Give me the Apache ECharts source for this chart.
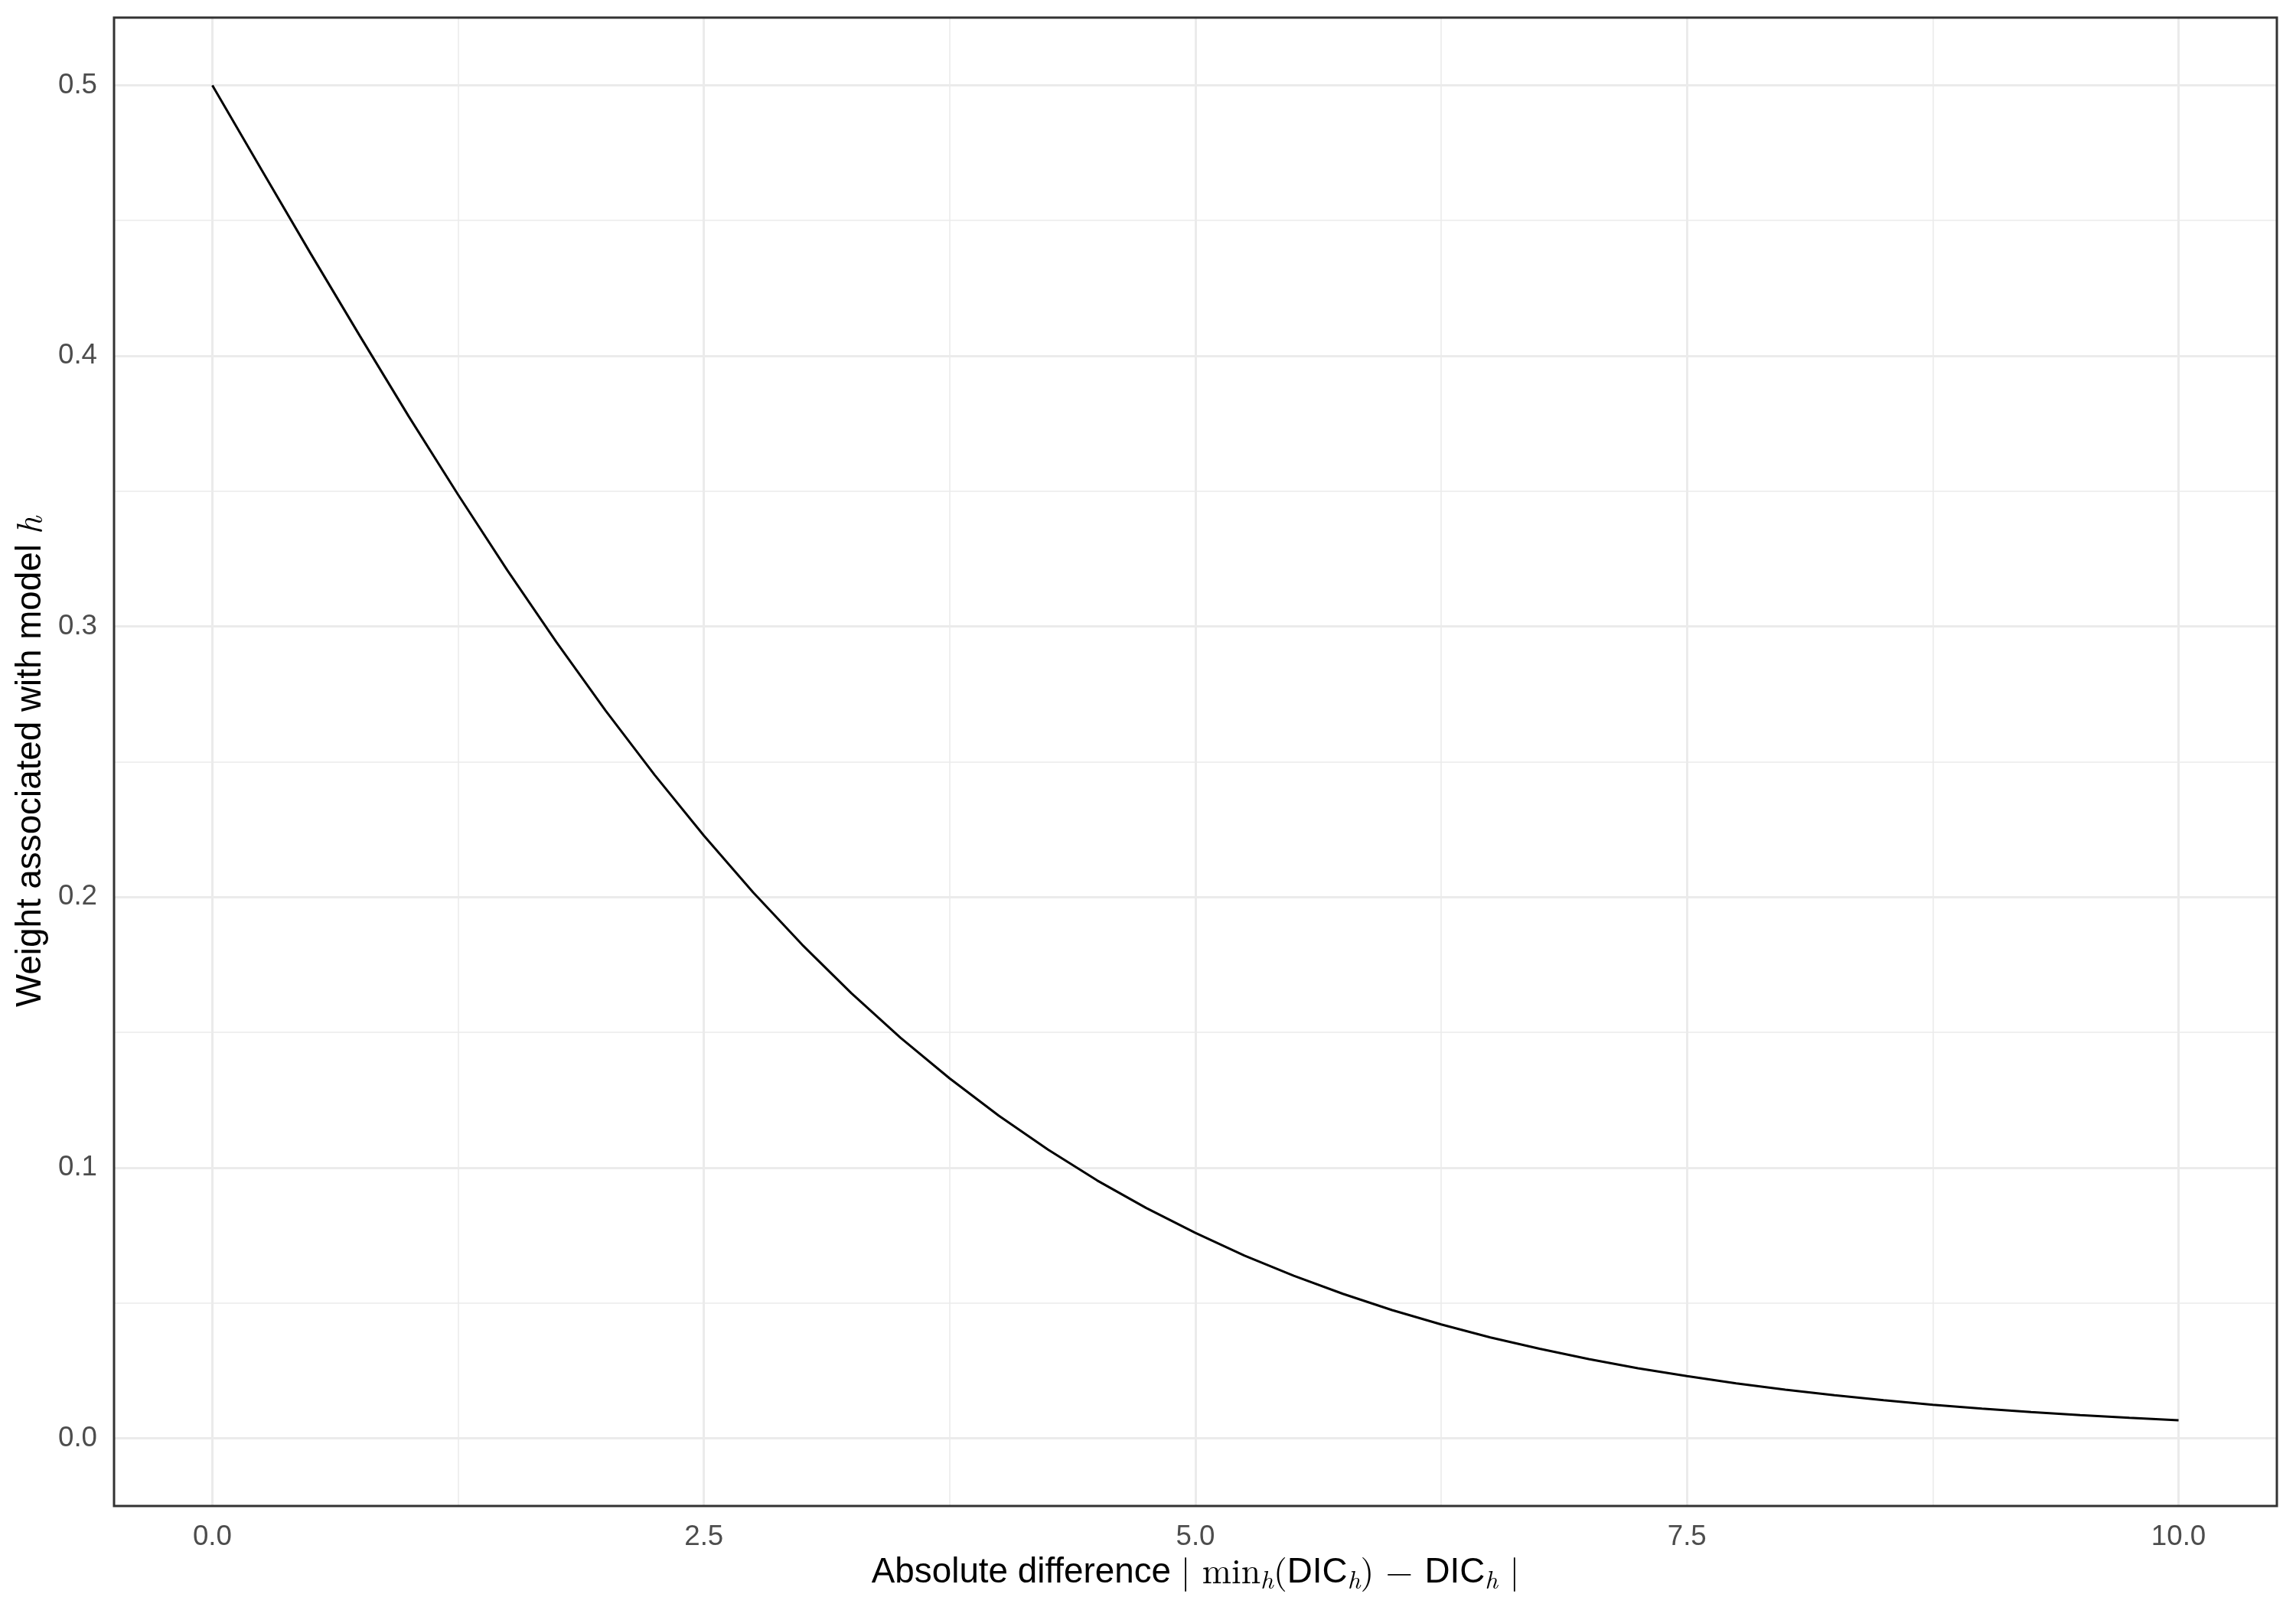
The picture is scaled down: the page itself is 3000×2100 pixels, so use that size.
<!DOCTYPE html>
<html>
<head>
<meta charset="utf-8">
<script src="https://cdn.jsdelivr.net/npm/echarts@6/dist/echarts.min.js"></script>
<style>
html,body{margin:0;padding:0;background:#fff;}
#chart{width:3000px;height:2100px;}
</style>
</head>
<body>
<div id="chart"></div>
<script>
// Absolute difference |min_h(DIC_h) - DIC_h|
const diffValues = [0, 0.25, 0.5, 0.75, 1, 1.25, 1.5, 1.75, 2, 2.25, 2.5, 2.75, 3, 3.25, 3.5, 3.75, 4, 4.25, 4.5, 4.75, 5,
  5.25, 5.5, 5.75, 6, 6.25, 6.5, 6.75, 7, 7.25, 7.5, 7.75, 8, 8.25, 8.5, 8.75, 9, 9.25, 9.5, 9.75, 10];
// Weight associated with model h
const weightValues = [0.5000, 0.4688, 0.4378, 0.4074, 0.3775, 0.3487, 0.3208, 0.2942, 0.2689, 0.2451, 0.2227, 0.2018,
  0.1824, 0.1645, 0.1480, 0.1330, 0.1192, 0.1067, 0.0953, 0.0851, 0.0759, 0.0675, 0.0601, 0.0534, 0.0474, 0.0421,
  0.0373, 0.0331, 0.0293, 0.0259, 0.0230, 0.0203, 0.0180, 0.0159, 0.0141, 0.0124, 0.0110, 0.0097, 0.0086, 0.0076, 0.0067];
const xTicks = [0, 2.5, 5, 7.5, 10];
const xMinorTicks = [1.25, 3.75, 6.25, 8.75];
const yTicks = [0, 0.1, 0.2, 0.3, 0.4, 0.5];
const yMinorTicks = [0.05, 0.15, 0.25, 0.35, 0.45];

const sans = '"Liberation Sans", Arial, Helvetica, sans-serif';
const serif = '"Latin Modern Roman", "DejaVu Serif", "Liberation Serif", serif';
const tickFont = 36.7;
const titleFont = 45.8;

const lineData = diffValues.map((d, i) => [d, weightValues[i]]);

const gridLines = [];
xMinorTicks.forEach(v => gridLines.push({xAxis: v, lineStyle: {color: '#EBEBEB', width: 1.6, type: 'solid'}}));
yMinorTicks.forEach(v => gridLines.push({yAxis: v, lineStyle: {color: '#EBEBEB', width: 1.6, type: 'solid'}}));
xTicks.forEach(v => gridLines.push({xAxis: v, lineStyle: {color: '#EBEBEB', width: 3, type: 'solid'}}));
yTicks.forEach(v => gridLines.push({yAxis: v, lineStyle: {color: '#EBEBEB', width: 3, type: 'solid'}}));

const chart = echarts.init(document.getElementById('chart'), null, {renderer: 'canvas'});
chart.setOption({
  backgroundColor: '#ffffff',
  animation: false,
  grid: {
    left: 149, right: 25, top: 23, bottom: 132,
    show: true, borderColor: '#333333', borderWidth: 3, backgroundColor: 'transparent', z: 10
  },
  xAxis: {
    type: 'value', min: -0.5, max: 10.5,
    axisLine: {show: false},
    splitLine: {show: false},
    axisTick: {show: true, customValues: xTicks, length: 11, lineStyle: {color: '#333333', width: 3}},
    axisLabel: {
      customValues: xTicks, margin: 22, color: '#4D4D4D', fontSize: tickFont, fontFamily: sans,
      formatter: v => Number(v).toFixed(1)
    },
    name: 'Absolute difference {m|| min}{s|h}{m|(}DIC{s|h}{m|) − }DIC{s|h}{m| |}',
    nameLocation: 'middle', nameGap: 58,
    nameTextStyle: {
      color: '#000', fontSize: titleFont, fontFamily: sans,
      rich: {
        m: {fontFamily: serif, fontSize: titleFont, color: '#000'},
        s: {fontFamily: serif, fontStyle: 'italic', fontSize: 33, color: '#000', padding: [22, 0, 0, 0]}
      }
    }
  },
  yAxis: {
    type: 'value', min: -0.025, max: 0.525,
    axisLine: {show: false},
    splitLine: {show: false},
    axisTick: {show: true, customValues: yTicks, length: 11, lineStyle: {color: '#333333', width: 3}},
    axisLabel: {
      customValues: yTicks, margin: 22, color: '#4D4D4D', fontSize: tickFont, fontFamily: sans,
      formatter: v => Number(v).toFixed(1)
    },
    name: 'Weight associated with model {i|h}',
    nameLocation: 'middle', nameGap: 86, nameRotate: 90,
    nameTextStyle: {
      color: '#000', fontSize: titleFont, fontFamily: sans,
      rich: {
        i: {fontFamily: serif, fontStyle: 'italic', fontSize: titleFont, color: '#000'}
      }
    }
  },
  series: [{
    type: 'line',
    data: lineData,
    showSymbol: false,
    smooth: false,
    lineStyle: {color: '#000000', width: 3},
    z: 5,
    markLine: {
      silent: true,
      symbol: ['none', 'none'],
      label: {show: false},
      animation: false,
      z: 1,
      data: gridLines
    }
  }]
});
</script>
</body>
</html>
